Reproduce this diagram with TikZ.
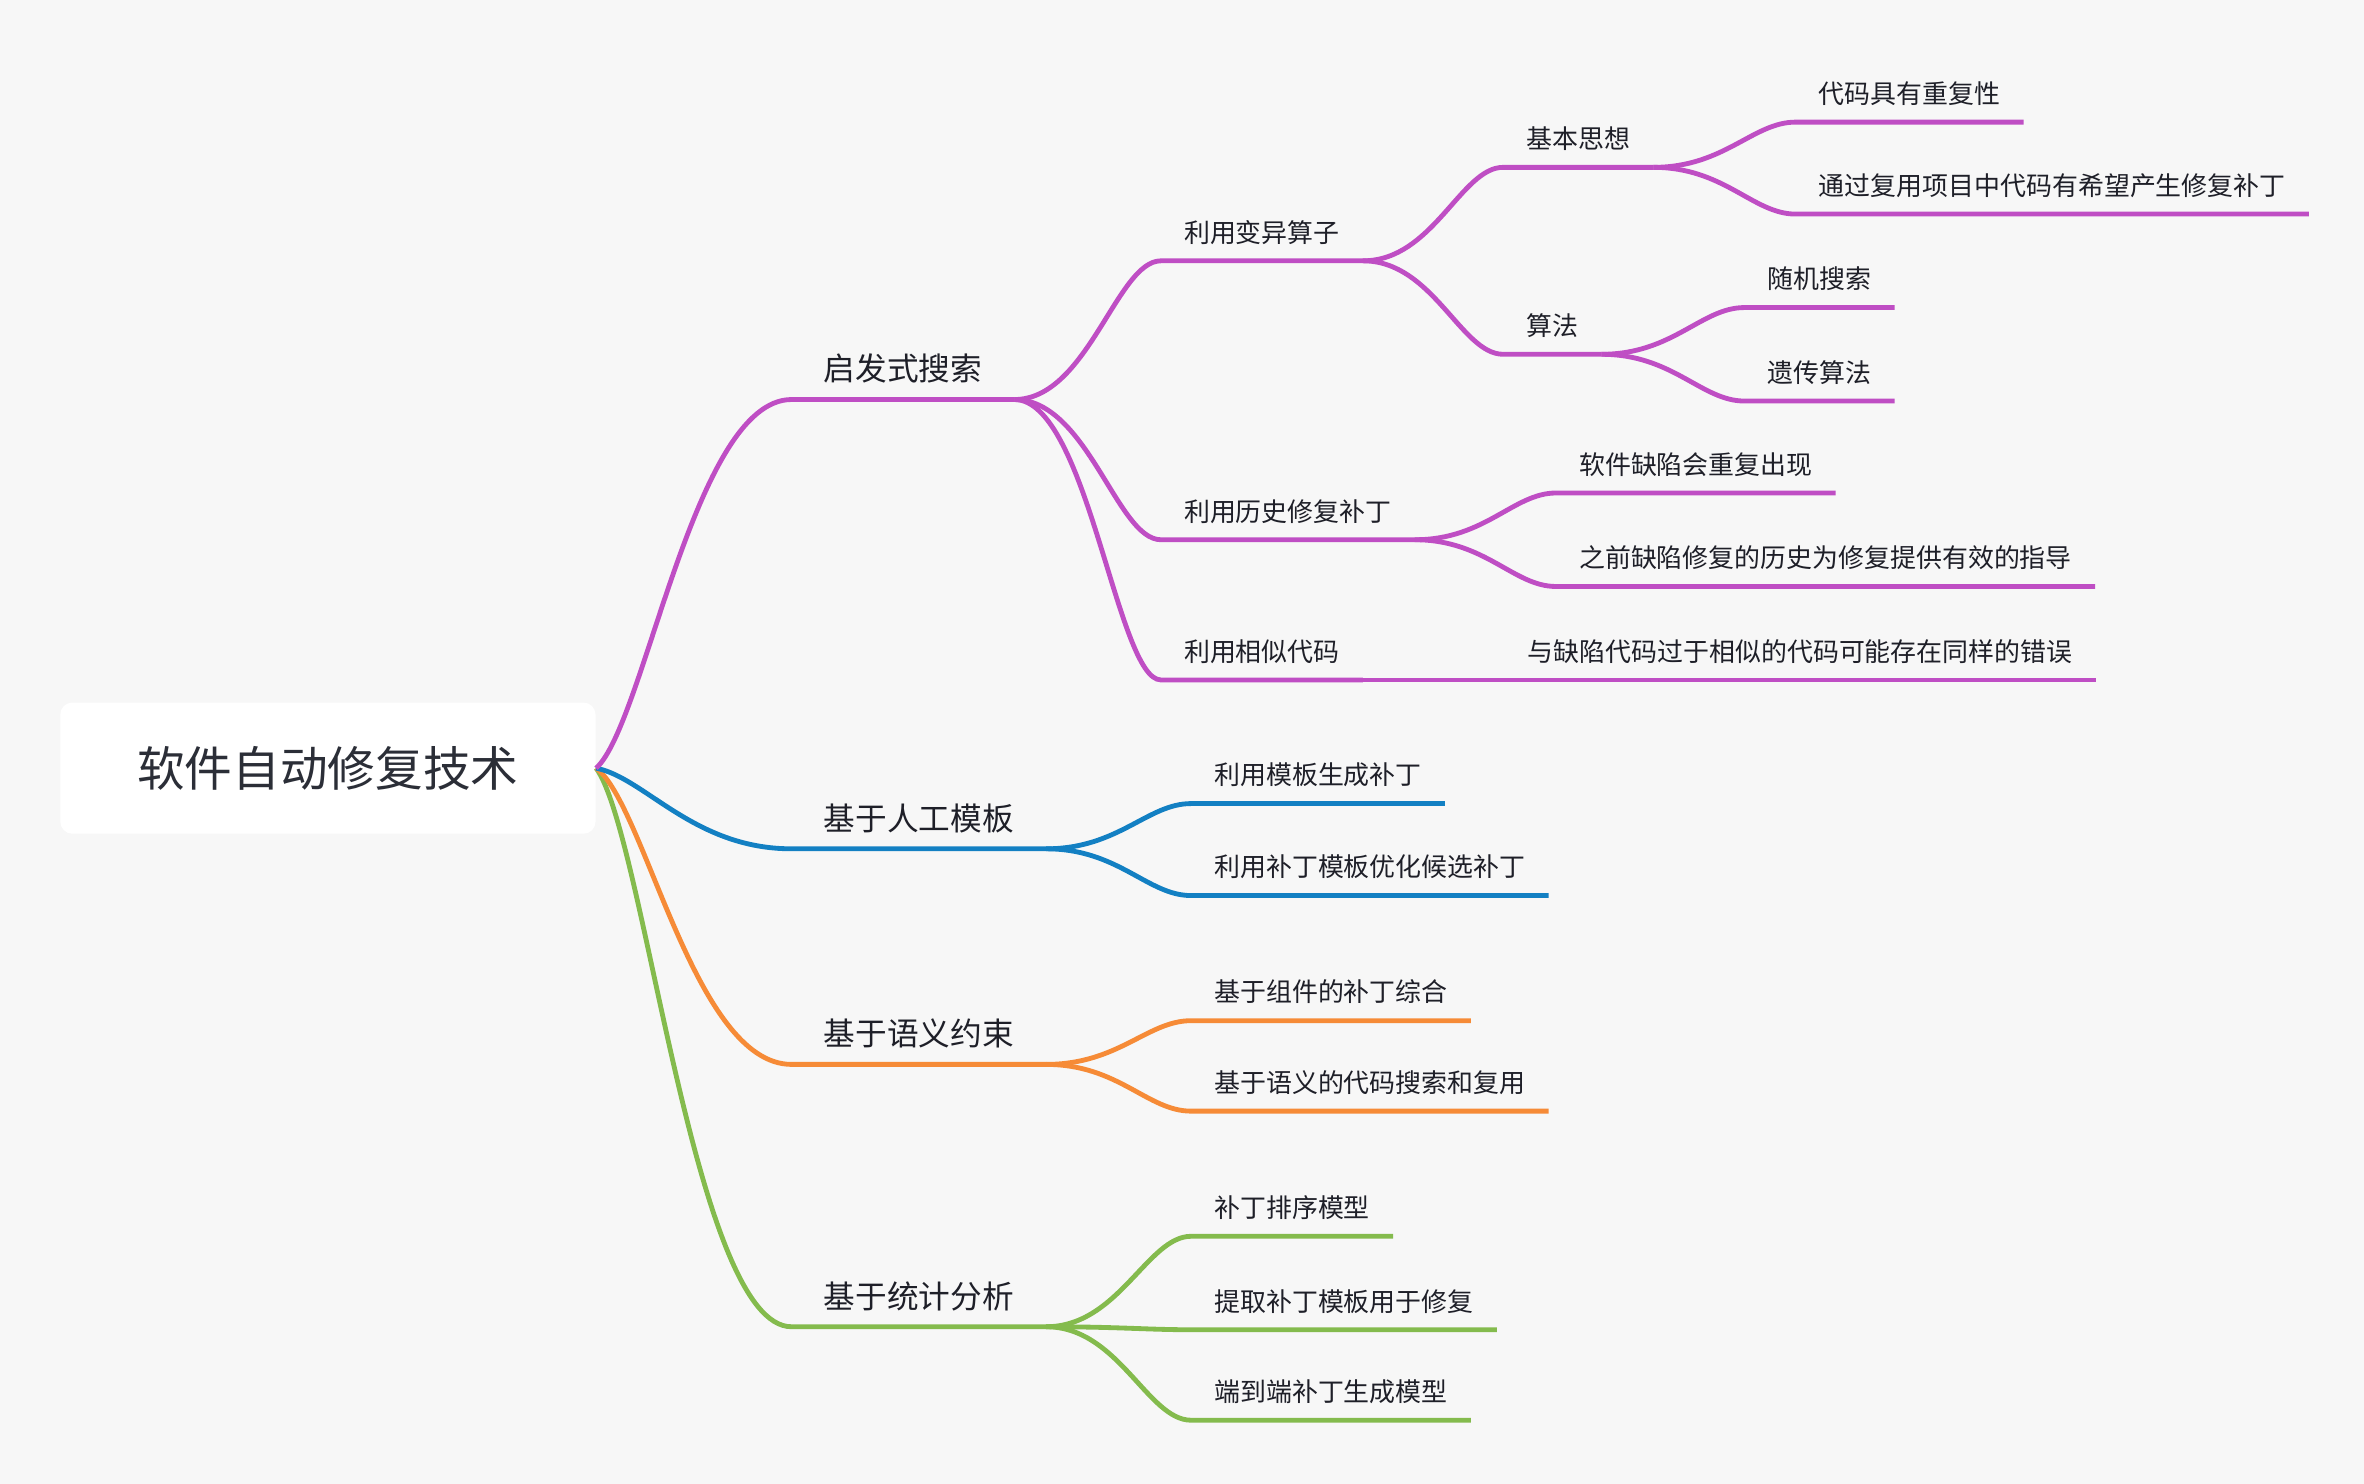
\documentclass[tikz,border=0pt]{standalone}
\usepackage{fontspec}
\setmainfont{Noto Sans CJK SC}
\usetikzlibrary{calc}
\definecolor{bgc}{HTML}{F7F7F7}
\definecolor{cpur}{HTML}{BF4EC4}
\definecolor{cblu}{HTML}{1380C3}
\definecolor{cora}{HTML}{F68B37}
\definecolor{cgrn}{HTML}{84BB4D}
\definecolor{ctxt}{HTML}{1E1F28}
\definecolor{croot}{HTML}{2B2E37}
% link from root: curve to child's underline start, then the underline
\newcommand\rootlink[3]{\draw[conn,#1] let \p1=(#2.east), \p2=(#3.south west) in (\p1) .. controls ({\x1+0.25*(\x2-\x1)},{\y1+0.12*(\y2-\y1)}) and ({\x1+0.5*(\x2-\x1)},\y2) .. (\p2) -- (#3.south east);}
% link between topics
\newcommand\sublink[3]{\draw[conn,#1] let \p1=(#2.south east), \p2=(#3.south west) in (\p1) .. controls ({\x1+0.5*(\x2-\x1)},\y1) and ({\x1+0.7*(\x2-\x1)},\y2) .. (\p2) -- (#3.south east);}
\tikzset{
  conn/.style={line width=1.6pt},
  rootbox/.style={fill=white, rounded corners=4pt, minimum width=177.5pt, minimum height=43.5pt, inner sep=0pt, text=croot, font=\fontsize{15.8pt}{18pt}\selectfont},
  topic/.style={anchor=south west, inner xsep=7.5pt, inner ysep=0pt, text height=7pt, text depth=6pt, text=ctxt, font=\fontsize{8.6pt}{10pt}\selectfont},
  major/.style={anchor=south west, inner xsep=10.5pt, inner ysep=0pt, text height=9pt, text depth=6pt, text=ctxt, font=\fontsize{10.5pt}{12pt}\selectfont}
}
\begin{document}
\begin{tikzpicture}[x=0.5pt, y=-0.5pt]
\fill[bgc] (0,0) rectangle (1568,984);
\useasboundingbox (0,0) rectangle (1568,984);

\node[rootbox] (root) at (217.5,509.5) {软件自动修复技术};

\node[major] (A) at (525,265) {启发式搜索};
\node[major] (B) at (525,563) {基于人工模板};
\node[major] (C) at (525,706) {基于语义约束};
\node[major] (D) at (525,880) {基于统计分析};

\node[topic] (A1) at (770,173) {利用变异算子};
\node[topic] (A2) at (770,358) {利用历史修复补丁};
\node[topic] (A3) at (770,451) {利用相似代码};
\node[topic] (A1a) at (997,111) {基本思想};
\node[topic] (A1b) at (997,235) {算法};
\node[topic] (A1a1) at (1191,81) {代码具有重复性};
\node[topic] (A1a2) at (1191,142) {通过复用项目中代码有希望产生修复补丁};
\node[topic] (A1b1) at (1157,204) {随机搜索};
\node[topic] (A1b2) at (1157,266) {遗传算法};
\node[topic] (A2a) at (1032,327) {软件缺陷会重复出现};
\node[topic] (A2b) at (1032,389) {之前缺陷修复的历史为修复提供有效的指导};
\node[topic] (A3a) at (998,451) {与缺陷代码过于相似的代码可能存在同样的错误};

\node[topic] (B1) at (790,533) {利用模板生成补丁};
\node[topic] (B2) at (790,594) {利用补丁模板优化候选补丁};
\node[topic] (C1) at (790,677) {基于组件的补丁综合};
\node[topic] (C2) at (790,737) {基于语义的代码搜索和复用};
\node[topic] (D1) at (790,820) {补丁排序模型};
\node[topic] (D2) at (790,882) {提取补丁模板用于修复};
\node[topic] (D3) at (790,942) {端到端补丁生成模型};

\rootlink{cgrn}{root}{D}
\rootlink{cora}{root}{C}
\rootlink{cblu}{root}{B}
\rootlink{cpur}{root}{A}

\sublink{cpur}{A}{A1}
\sublink{cpur}{A}{A2}
\sublink{cpur}{A}{A3}
\sublink{cpur}{A1}{A1a}
\sublink{cpur}{A1}{A1b}
\sublink{cpur}{A1a}{A1a1}
\sublink{cpur}{A1a}{A1a2}
\sublink{cpur}{A1b}{A1b1}
\sublink{cpur}{A1b}{A1b2}
\sublink{cpur}{A2}{A2a}
\sublink{cpur}{A2}{A2b}
\sublink{cpur}{A3}{A3a}

\sublink{cblu}{B}{B1}
\sublink{cblu}{B}{B2}
\sublink{cora}{C}{C1}
\sublink{cora}{C}{C2}
\sublink{cgrn}{D}{D1}
\sublink{cgrn}{D}{D2}
\sublink{cgrn}{D}{D3}
\end{tikzpicture}
\end{document}
